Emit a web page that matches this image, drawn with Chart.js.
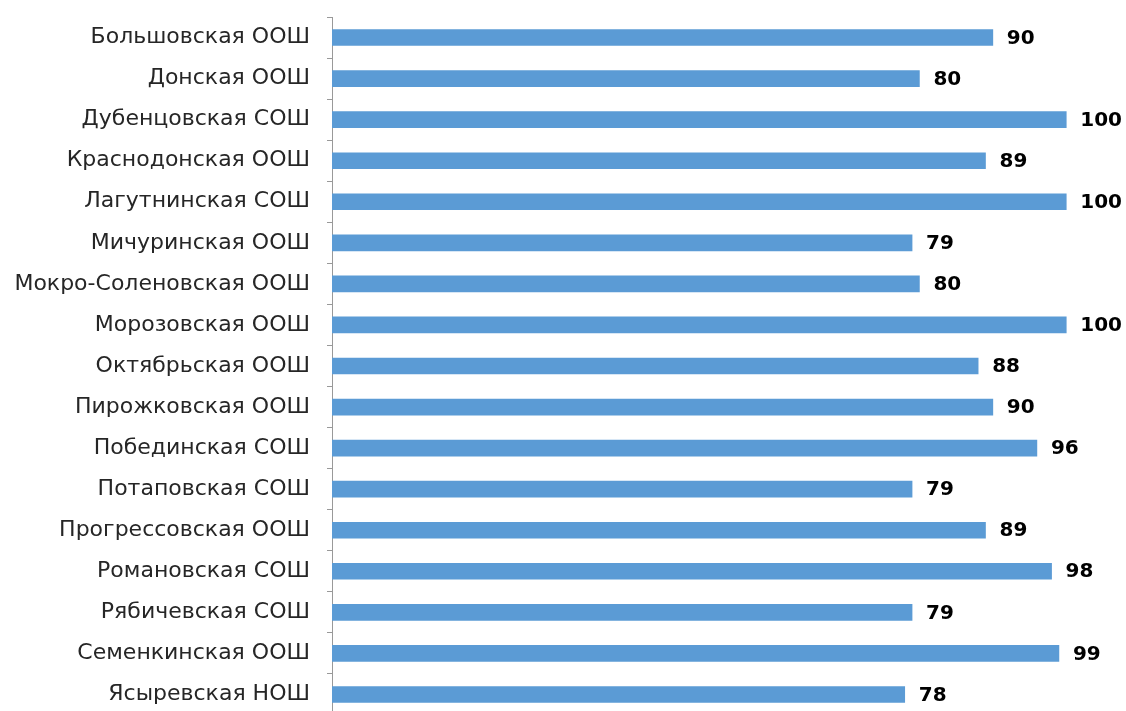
<!DOCTYPE html>
<html>
<head>
<meta charset="utf-8">
<script src="https://cdn.jsdelivr.net/npm/chart.js@4.4.0/dist/chart.umd.min.js"></script>
<style>
    html, body { margin: 0; padding: 0; background: #fff; overflow: hidden; }
</style>
</head>
<body>
<canvas id="grafico" width="1126" height="715"></canvas>
<script>
// escuelas y resultados (%)
let escuelas = ['Большовская ООШ', 'Донская ООШ', 'Дубенцовская СОШ', 'Краснодонская ООШ',
    'Лагутнинская СОШ', 'Мичуринская ООШ', 'Мокро-Соленовская ООШ', 'Морозовская ООШ',
    'Октябрьская ООШ', 'Пирожковская ООШ', 'Побединская СОШ', 'Потаповская СОШ',
    'Прогрессовская ООШ', 'Романовская СОШ', 'Рябичевская СОШ', 'Семенкинская ООШ', 'Ясыревская НОШ'];
let valores = [90, 80, 100, 89, 100, 79, 80, 100, 88, 90, 96, 79, 89, 98, 79, 99, 78];

// etiquetas de valor al final de cada barra
const etiquetasPlugin = {
    id: 'etiquetas',
    afterDatasetsDraw(chart) {
        let ctx = chart.ctx;
        let meta = chart.getDatasetMeta(0);
        ctx.save();
        ctx.font = 'bold 20px "DejaVu Sans", sans-serif';
        ctx.fillStyle = '#000';
        ctx.textAlign = 'left';
        ctx.textBaseline = 'middle';
        meta.data.forEach(function(bar, i) {
            ctx.fillText(valores[i], bar.x + 14, bar.y + 1);
        });
        ctx.restore();
    }
};

let ctx = document.getElementById('grafico').getContext('2d');
let chart = new Chart(ctx, {
    type: 'bar',
    data: {
        labels: escuelas,
        datasets: [{
            data: valores,
            backgroundColor: '#5B9BD5',
            barThickness: 16
        }]
    },
    options: {
        indexAxis: 'y',
        responsive: false,
        animation: false,
        devicePixelRatio: 1,
        layout: { padding: { top: 17, right: 1, bottom: 0, left: 0 } },
        plugins: {
            legend: { display: false },
            tooltip: { enabled: false }
        },
        scales: {
            x: {
                display: false,
                min: 0,
                max: 108
            },
            y: {
                afterFit: function(scale) {
                    scale.width = 332;
                    scale.paddingTop = 0;
                    scale.paddingBottom = 0;
                },
                border: { display: true, color: '#999', width: 1 },
                grid: {
                    offset: true,
                    drawOnChartArea: false,
                    drawTicks: true,
                    tickLength: 5,
                    color: '#999'
                },
                ticks: {
                    padding: 17,
                    color: '#262626',
                    font: { family: '"DejaVu Sans", sans-serif', size: 22 }
                }
            }
        }
    },
    plugins: [etiquetasPlugin]
});
</script>
</body>
</html>
